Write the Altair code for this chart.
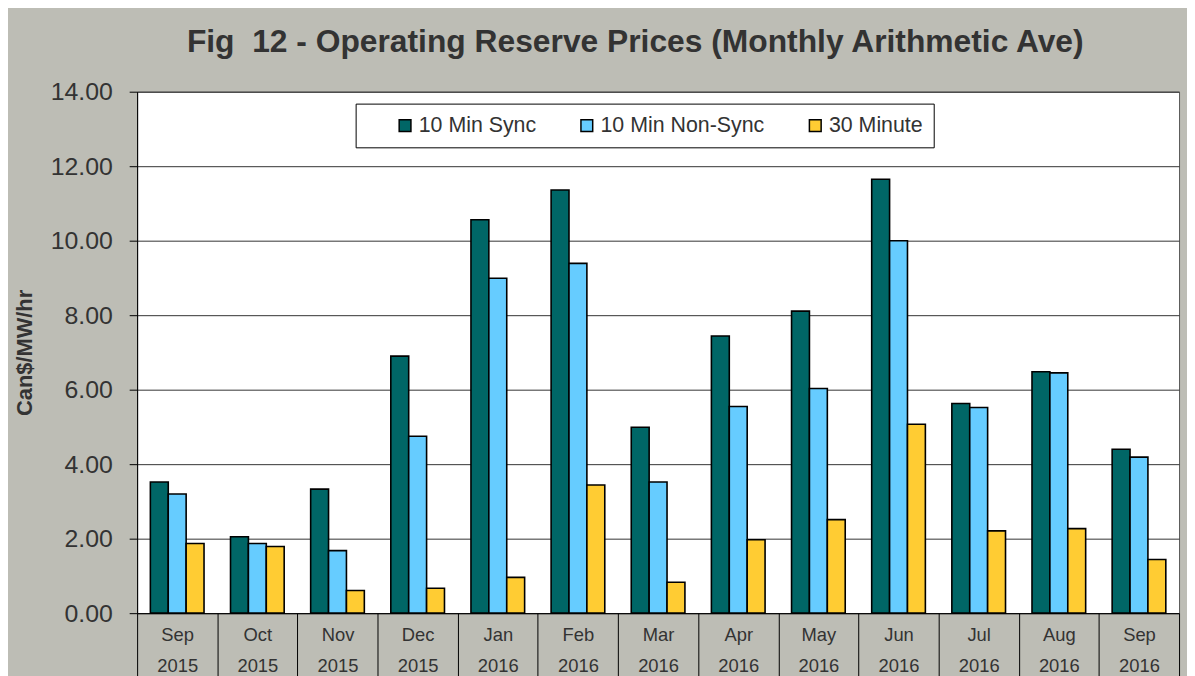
import altair as alt
import pandas as pd

months = ["Sep 2015", "Oct 2015", "Nov 2015", "Dec 2015", "Jan 2016", "Feb 2016",
          "Mar 2016", "Apr 2016", "May 2016", "Jun 2016", "Jul 2016", "Aug 2016", "Sep 2016"]
series = ["10 Min Sync", "10 Min Non-Sync", "30 Minute"]
sync_vals = [3.52, 2.05, 3.33, 6.90, 10.56, 11.36, 4.99, 7.44, 8.11, 11.65, 5.63, 6.48, 4.40]
nonsync_vals = [3.20, 1.87, 1.68, 4.75, 8.99, 9.39, 3.52, 5.55, 6.03, 10.00, 5.52, 6.45, 4.19]
thirty_vals = [1.87, 1.79, 0.61, 0.67, 0.96, 3.44, 0.83, 1.97, 2.51, 5.07, 2.21, 2.27, 1.44]
colors = ["#006666", "#66CCFF", "#FFCC33"]
y_ticks = [0, 2, 4, 6, 8, 10, 12, 14]

rows = []
for s, vals in zip(series, [sync_vals, nonsync_vals, thirty_vals]):
    for m, v in zip(months, vals):
        rows.append({"month": m, "series": s, "value": v})
df = pd.DataFrame(rows)

FONT = "Liberation Sans"
TXT = "#333333"

chart = alt.Chart(df).mark_bar(stroke="black", strokeWidth=1.6).encode(
    x=alt.X("month:N", sort=months,
            scale=alt.Scale(paddingInner=0, paddingOuter=0),
            axis=alt.Axis(title=None, labelAngle=0, labelFontSize=18.5, labelColor=TXT,
                          labelFont=FONT, labelLineHeight=31,
                          labelExpr="split(datum.label, ' ')",
                          tickBand="extent", tickSize=70, tickColor="black",
                          labelPadding=-57, domainColor="black", grid=False)),
    xOffset=alt.XOffset("series:N", sort=series,
                        scale=alt.Scale(paddingInner=0, paddingOuter=0.74)),
    y=alt.Y("value:Q", scale=alt.Scale(domain=[0, 14], nice=False),
            axis=alt.Axis(values=y_ticks, format=".2f", labelFontSize=25, labelColor=TXT,
                          labelFont=FONT, tickSize=8, tickColor="black", labelPadding=17,
                          domainColor="black", grid=True, gridColor="#333333",
                          title="Can$/MW/hr", titleFontSize=22, titleFont=FONT,
                          titleFontWeight="bold", titleColor=TXT, titlePadding=14)),
    color=alt.Color("series:N", sort=series,
                    scale=alt.Scale(domain=series, range=colors),
                    legend=alt.Legend(title=None, orient="none", legendX=220, legendY=12,
                                      direction="horizontal", fillColor="white",
                                      strokeColor="black", padding=11, symbolOffset=28,
                                      symbolType="square", symbolSize=140,
                                      symbolStrokeColor="black", symbolStrokeWidth=1.5,
                                      labelFontSize=21.5, labelFont=FONT, labelColor=TXT,
                                      labelLimit=400, labelOffset=3, columnPadding=12)),
).properties(
    width=1049,
    height=525,
    autosize=alt.AutoSizeParams(type="none"),
    padding={"left": 130, "top": 82, "right": 8, "bottom": 61},
    background="#BDBDB5",
    title=alt.TitleParams(text="Fig \u00a012 - Operating Reserve Prices (Monthly Arithmetic Ave)",
                          fontSize=32, font=FONT, fontWeight="bold", color=TXT,
                          anchor="middle", frame="group", dx=-23, dy=28, offset=24,
                          baseline="alphabetic"),
).configure_view(fill="white", stroke="#555555", strokeWidth=1)

chart.save("out.html", embed_options={"renderer": "svg", "actions": False})
